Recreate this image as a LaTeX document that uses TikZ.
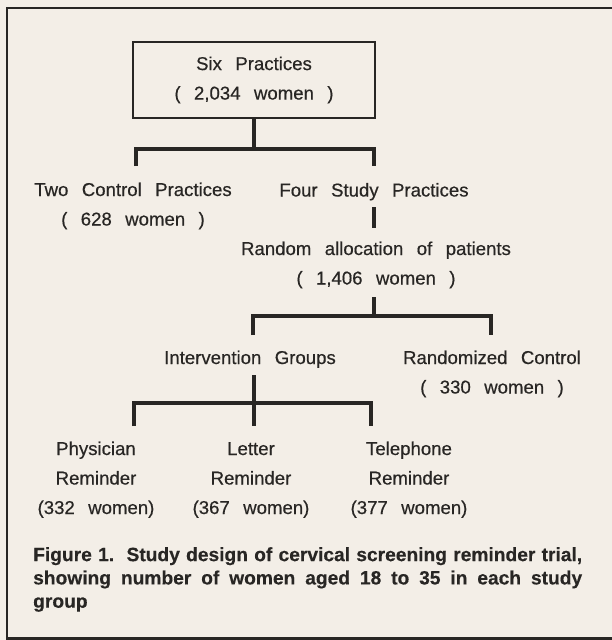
\documentclass[tikz,border=0pt]{standalone}
\usepackage{fontspec}
\setmainfont{Liberation Sans}
\newfontfamily\diagfont[WordSpace=2.6,FakeBold=0.5]{Liberation Sans}
\newfontfamily\capfont[FakeBold=0.3]{Liberation Sans Bold}
\definecolor{paper}{RGB}{243,238,231}
\definecolor{ink}{RGB}{40,38,36}

\begin{document}
\begin{tikzpicture}[x=1pt,y=-1pt]%
\tikzstyle{link}=[line width=4.5pt,color=ink,line join=miter] %%
\fill[paper] (0,0) rectangle (612,640);%
\useasboundingbox (0,0) rectangle (612,640);%
\draw[ink,line width=2.5pt] (612,8)--(7,8)--(7,640); %%
\draw[ink,line width=2.5pt] (7,638.5)--(612,638.5); %%
\begin{scope}%
\tikzstyle{every node}=[align=center,inner sep=0pt,text=ink,font=\diagfont\fontsize{18.6}{29.5}\selectfont] %%
\node[draw=ink,line width=2pt,minimum width=242,minimum height=76] (six) at (254,80) {Six Practices\\( 2,034 women )}; %%
\node[anchor=base] (twoctl) at (133,225.5) {Two Control Practices\\( 628 women )}; %%
\node[anchor=base] (fourstudy) at (374,196.5) {Four Study Practices}; %%
\node[anchor=base] (random) at (376,284.5) {Random allocation of patients\\( 1,406 women )}; %%
\node[anchor=base] (interv) at (250,364) {Intervention Groups}; %%
\node[anchor=base] (randctl) at (492,393.5) {Randomized Control\\( 330 women )}; %%
\node[anchor=base] (physician) at (96,514) {Physician\\Reminder\\(332 women)}; %%
\node[anchor=base] (letter) at (251,514) {Letter\\Reminder\\(367 women)}; %%
\node[anchor=base] (telephone) at (409,514) {Telephone\\Reminder\\(377 women)}; %%
\end{scope}
\node[anchor=north west,inner sep=0pt,text width=549,align=justify,text=ink,
  font=\capfont\fontsize{19.2}{23.3}\selectfont] (caption) at (33,547)
  {Figure 1.\ \ Study design of cervical screening reminder trial,\linebreak
   showing number of women aged 18 to 35 in each study\linebreak group};%

\coordinate (bar1) at (254,149); %%
\coordinate (bar1l) at (136,149); %%
\coordinate (bar1r) at (374,149); %%
\coordinate (drop1l) at (136,166); %%
\coordinate (drop1r) at (374,166); %%
\coordinate (stem2a) at (374,207); %%
\coordinate (stem2b) at (374,228); %%
\coordinate (stem3) at (374,297); %%
\coordinate (bar3) at (374,316); %%
\coordinate (bar3l) at (253,316); %%
\coordinate (bar3r) at (491,316); %%
\coordinate (drop3l) at (253,335); %%
\coordinate (drop3r) at (491,335); %%
\coordinate (stem4a) at (254,375); %%
\coordinate (stem4b) at (254,426); %%
\coordinate (bar4l) at (134,403); %%
\coordinate (bar4r) at (371,403); %%
\coordinate (drop4l) at (134,426); %%
\coordinate (drop4r) at (371,426); %%

\draw[link] (six.south)--(bar1); %%
\draw[link] (drop1l)--(bar1l)--(bar1r)--(drop1r); %%
\draw[link] (stem2a)--(stem2b); %%
\draw[link] (stem3)--(bar3); %%
\draw[link] (drop3l)--(bar3l)--(bar3r)--(drop3r); %%
\draw[link] (stem4a)--(stem4b); %%
\draw[link] (drop4l)--(bar4l)--(bar4r)--(drop4r); %%
\end{tikzpicture}
\end{document}
